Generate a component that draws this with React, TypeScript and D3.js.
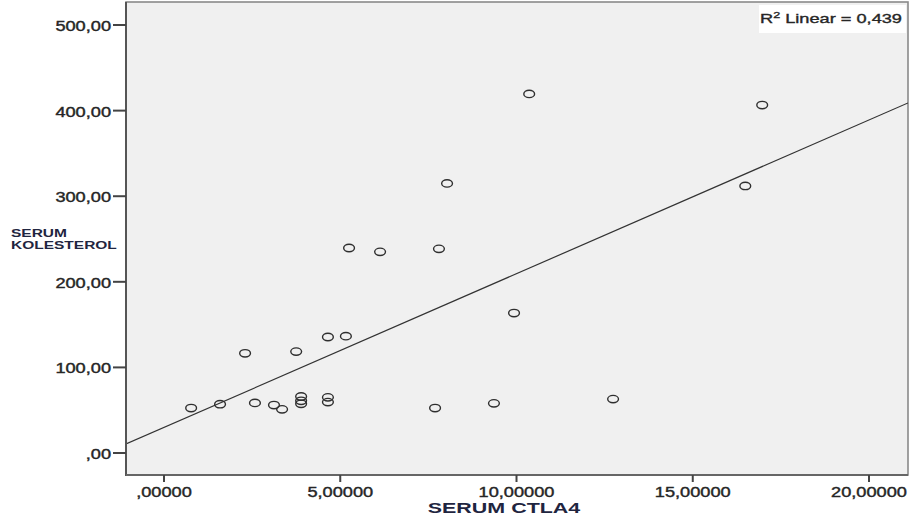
import React from "react";
import * as d3 from "d3";

// Serum CTLA4 vs serum cholesterol, one point per subject
const ctla4 = [0.77, 1.59, 2.30, 2.58, 3.12, 3.35, 3.75, 3.89, 3.89, 3.89, 4.65, 4.65, 4.65, 5.16, 5.25, 6.13, 7.69, 7.80, 8.03, 9.36, 9.93, 10.36, 12.74, 16.49, 16.97];
const kolesterol = [52.5, 57, 116.5, 58.5, 56, 51, 118.5, 66, 61, 57.5, 135.5, 65, 59.5, 136.5, 239.5, 235, 52.5, 238.5, 315, 58, 163.5, 419.5, 63, 312, 406.5];

const xTicks = [0, 5, 10, 15, 20];
const xTickLabels = [",00000", "5,00000", "10,00000", "15,00000", "20,00000"];
const yTicks = [0, 100, 200, 300, 400, 500];
const yTickLabels = [",00", "100,00", "200,00", "300,00", "400,00", "500,00"];

// Linear fit line
const fitIntercept = 29.9;
const fitSlope = 17.96;
const fitLabel = "0,439";

const W = 912;
const H = 521;
const left = 126;
const right = 908;
const top = 2;
const bottom = 475;

const x = d3.scaleLinear().domain([-1.078, 21.106]).range([left, right]);
const y = d3.scaleLinear().domain([-25.7, 526.9]).range([bottom, top]);

const FONT = "'Liberation Sans', Arial, sans-serif";

// Text drawn with a horizontal stretch around its anchor
function SText(props: {
  x: number; y: number; sx: number; size: number; anchor?: string;
  weight?: string | number; fill?: string; outline?: number; children: React.ReactNode;
}) {
  const { sx, size, anchor = "start", weight = "normal", fill = "#262626", outline = 0 } = props;
  return (
    <g transform={`translate(${props.x},${props.y}) scale(${sx},1)`}>
      <text x={0} y={0} fontFamily={FONT} fontSize={size} fontWeight={weight} textAnchor={anchor} fill={fill}
        stroke={outline ? fill : "none"} strokeWidth={outline}>
        {props.children}
      </text>
    </g>
  );
}

export default function App() {
  const line = d3.line<number>()
    .x((d) => x(d))
    .y((d) => y(fitIntercept + fitSlope * d));
  const xDom = x.domain();

  return (
    <svg width={W} height={H} style={{ position: "absolute", left: 0, top: 0 }}>
      <rect x={0} y={0} width={W} height={H} fill="#ffffff" />
      <defs>
        <clipPath id="plotClip">
          <rect x={left} y={top} width={right - left} height={bottom - top} />
        </clipPath>
      </defs>
      <rect x={left} y={top} width={right - left} height={bottom - top} fill="#f0f0f0" stroke="#8a8a8a" strokeWidth={1.6} />

      {/* regression line */}
      <g clipPath="url(#plotClip)">
        <path d={line([xDom[0], xDom[1]]) ?? ""} stroke="#333" strokeWidth={1.2} fill="none" />
      </g>

      {/* points */}
      {ctla4.map((v, i) => (
        <ellipse key={i} cx={x(v)} cy={y(kolesterol[i])} rx={5.4} ry={3.7} fill="none" stroke="#2e2e2e" strokeWidth={1.4} />
      ))}

      {/* axes */}
      <line x1={left} x2={left} y1={top} y2={bottom + 1} stroke="#555" strokeWidth={2} />
      <line x1={left} x2={right} y1={bottom} y2={bottom} stroke="#666" strokeWidth={2} />
      {yTicks.map((t, i) => (
        <g key={t}>
          <line x1={113} x2={left} y1={y(t)} y2={y(t)} stroke="#444" strokeWidth={2} />
          <SText x={111} y={y(t) + 6} sx={1.3} size={14} anchor="end" outline={0.4}>{yTickLabels[i]}</SText>
        </g>
      ))}
      {xTicks.map((t, i) => (
        <g key={t}>
          <line x1={x(t)} x2={x(t)} y1={bottom} y2={bottom + 7} stroke="#444" strokeWidth={2} />
          <SText x={x(t)} y={497} sx={1.3} size={14} anchor="middle" outline={0.4}>{xTickLabels[i]}</SText>
        </g>
      ))}

      {/* axis titles */}
      <SText x={504} y={513} sx={1.43} size={15} weight="bold" anchor="middle" fill="#1f2540">SERUM CTLA4</SText>
      <SText x={11} y={237} sx={1.55} size={10} weight="bold" fill="#1f2540">SERUM</SText>
      <SText x={11} y={249} sx={1.55} size={10} weight="bold" fill="#1f2540">KOLESTEROL</SText>

      {/* fit annotation */}
      <rect x={759} y={5} width={147} height={28} fill="#ffffff" />
      <g transform={`translate(760,23) scale(1.4,1)`}>
        <text fontFamily={FONT} fontSize={13} fill="#262626" stroke="#262626" strokeWidth={0.35}>
          R<tspan fontSize={9} dy={-5}>2</tspan>
          <tspan dy={5}> Linear = {fitLabel}</tspan>
        </text>
      </g>
    </svg>
  );
}
